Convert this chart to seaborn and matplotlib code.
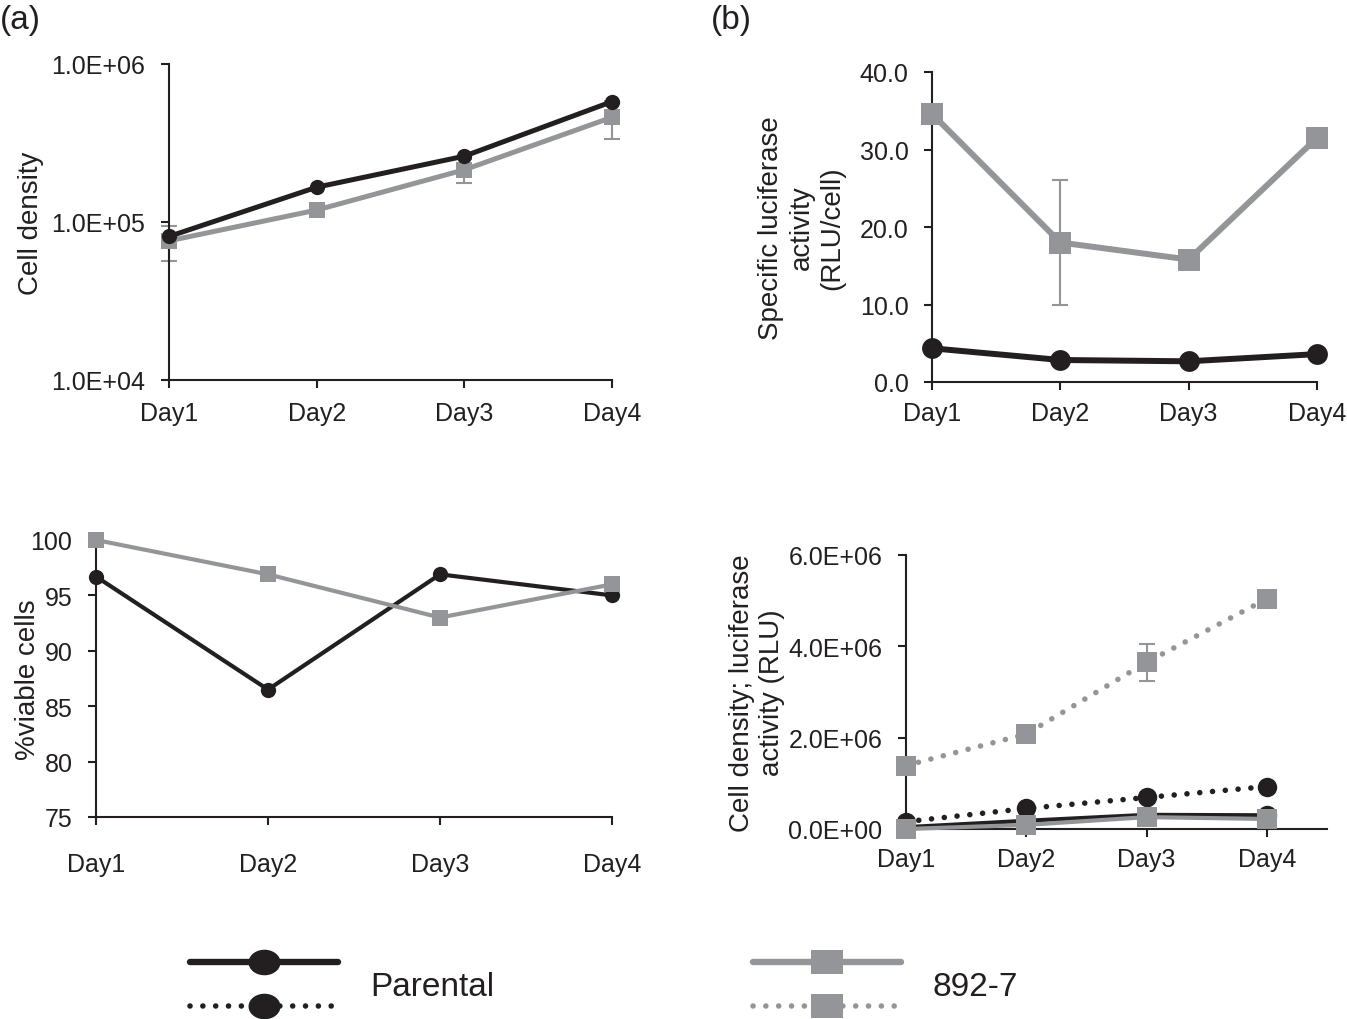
import numpy as np
import pandas as pd
import matplotlib
matplotlib.use('Agg')
import matplotlib.pyplot as plt
import seaborn as sns
from matplotlib.lines import Line2D
from matplotlib.legend_handler import HandlerBase
from matplotlib.ticker import FuncFormatter, FixedLocator, NullLocator
from matplotlib.transforms import blended_transform_factory

# ---------------------------------------------------------------------------
# data
# ---------------------------------------------------------------------------
days = ['Day1', 'Day2', 'Day3', 'Day4']

# (a) cell density
dens_parental = [8.1e4, 1.66e5, 2.61e5, 5.78e5]
dens_892 = [7.6e4, 1.19e5, 2.14e5, 4.6e5]
dens_892_err = [1.9e4, 0.0, 3.7e4, 1.26e5]

# (a) viability
viab_parental = [96.7, 86.5, 96.9, 95.0]
viab_892 = [100.0, 96.9, 93.0, 96.0]

# (b) specific luciferase activity
spec_parental = [4.35, 2.84, 2.67, 3.6]
spec_892 = [34.6, 18.0, 15.8, 31.5]
spec_892_err = [0.0, 8.1, 0.0, 0.0]

# (b) cell density (solid) and luciferase activity (dotted)
cd_parental = [0.04e6, 0.18e6, 0.31e6, 0.30e6]
cd_892 = [0.0, 0.09e6, 0.26e6, 0.22e6]
luc_parental = [0.16e6, 0.45e6, 0.69e6, 0.93e6]
luc_892 = [1.39e6, 2.08e6, 3.65e6, 5.04e6]
luc_892_err = [0.0, 0.0, 0.40e6, 0.0]

BLACK = '#231F20'
GRAY = '#939598'
DOTS = (0, (0.01, 2.3))

sns.set_style('ticks')
plt.rcParams['font.family'] = ['Liberation Sans', 'DejaVu Sans']
plt.rcParams['axes.linewidth'] = 1.5
plt.rcParams['xtick.major.width'] = 1.5
plt.rcParams['ytick.major.width'] = 1.5
plt.rcParams['xtick.major.size'] = 6
plt.rcParams['ytick.major.size'] = 6
plt.rcParams['axes.edgecolor'] = BLACK

W, H = 1347, 1020
fig = plt.figure(figsize=(W / 100, H / 100), dpi=100)


def add_ax(l, r, t, b):
    return fig.add_axes([l / W, 1 - b / H, (r - l) / W, (b - t) / H])


xpos = np.arange(len(days))


def draw(ax, y, color, marker, ms, lw, ls='-', err=None):
    df = pd.DataFrame({'x': xpos, 'y': y})
    sns.lineplot(data=df, x='x', y='y', ax=ax, color=color, marker=marker,
                 markersize=ms, markeredgewidth=0, linewidth=lw, linestyle=ls,
                 dash_capstyle='round', errorbar=None, clip_on=False, zorder=3)
    if err is not None:
        ax.errorbar(xpos, y, yerr=err, fmt='none', ecolor=color, elinewidth=1.5,
                    capsize=6, capthick=1.5, zorder=2, clip_on=False)


def style(ax, xmax, ylabel, label_x, xpad):
    ax.set_xlim(0, xmax)
    ax.xaxis.set_major_locator(FixedLocator(xpos))
    ax.set_xticklabels(days)
    ax.set_xlabel('')
    ax.set_ylabel(ylabel, fontsize=20, color=BLACK, linespacing=1.22)
    ax.yaxis.set_label_coords(label_x / W, 0.5,
                              transform=blended_transform_factory(fig.transFigure, ax.transAxes))
    sns.despine(ax=ax)
    ax.tick_params(axis='both', labelsize=18, colors=BLACK, direction='out')
    ax.tick_params(axis='x', pad=xpad)
    ax.tick_params(axis='y', pad=11)


# --- (a) top: cell density, log scale
ax1 = add_ax(169, 612, 65, 381)
ax1.set_yscale('log')
draw(ax1, dens_892, GRAY, 's', 11, 3.6, err=dens_892_err)
draw(ax1, dens_parental, BLACK, 'o', 11, 3.6)
ax1.set_ylim(1e4, 1e6)
ax1.yaxis.set_major_locator(FixedLocator([1e4, 1e5, 1e6]))
ax1.yaxis.set_minor_locator(NullLocator())
ax1.yaxis.set_major_formatter(FuncFormatter(lambda v, p: f'{v:.1E}'))
style(ax1, 3, 'Cell density', 44, 9)

# --- (a) bottom: viability
ax2 = add_ax(96, 612, 541, 818)
draw(ax2, viab_parental, BLACK, 'o', 11, 3.0)
draw(ax2, viab_892, GRAY, 's', 11, 3.0)
ax2.set_ylim(75, 100)
ax2.set_yticks([75, 80, 85, 90, 95, 100])
style(ax2, 3, '%viable cells', 41, 19)

# --- (b) top: specific luciferase activity
ax3 = add_ax(932, 1317, 73, 383)
draw(ax3, spec_892, GRAY, 's', 16, 4.3, err=spec_892_err)
draw(ax3, spec_parental, BLACK, 'o', 15, 4.3)
ax3.set_ylim(0, 40)
ax3.set_yticks([0, 10, 20, 30, 40])
ax3.yaxis.set_major_formatter(FuncFormatter(lambda v, p: f'{v:.1f}'))
style(ax3, 3, 'Specific luciferase\nactivity\n(RLU/cell)', 845, 8)

# --- (b) bottom: cell density (solid) and luciferase activity (dotted)
ax4 = add_ax(906, 1327, 556, 830)
draw(ax4, luc_892, GRAY, 's', 14, 4.0, ls=DOTS, err=luc_892_err)
draw(ax4, luc_parental, BLACK, 'o', 14, 4.0, ls=DOTS)
draw(ax4, cd_parental, BLACK, 'o', 14, 3.0)
draw(ax4, cd_892, GRAY, 's', 14, 3.0)
ax4.set_ylim(0, 6e6)
ax4.set_yticks([0, 2e6, 4e6, 6e6])
ax4.yaxis.set_major_formatter(FuncFormatter(lambda v, p: f'{v:.1E}'))
style(ax4, 3.5, 'Cell density; luciferase\nactivity (RLU)', 785, 7)

# panel letters
fig.text(0.0, 1 - 20 / H, '(a)', fontsize=24, color=BLACK, va='center', ha='left')
fig.text(711 / W, 1 - 20 / H, '(b)', fontsize=24, color=BLACK, va='center', ha='left')

# legend marker shapes (slightly flattened, as in the original key)
t = np.linspace(0, 2 * np.pi, 60)
ELLIPSE = np.column_stack([np.cos(t), 0.8 * np.sin(t)])
RECT = [(-1, -0.78), (1, -0.78), (1, 0.78), (-1, 0.78), (-1, -0.78)]


class HandlerStack(HandlerBase):
    """solid sample on top, dotted sample below, one label"""

    def create_artists(self, legend, orig_handle, xdescent, ydescent,
                       width, height, fontsize, trans):
        arts = []
        x0, x1 = -xdescent, -xdescent + width
        xm = (x0 + x1) / 2
        for h, yy in zip(orig_handle, (-ydescent + height, -ydescent)):
            ln = Line2D([x0, x1], [yy, yy], color=h.get_color(),
                        linewidth=h.get_linewidth(), linestyle=h.ls_spec,
                        dash_capstyle='round', transform=trans)
            mk = Line2D([xm], [yy], color=h.get_color(), marker=h.get_marker(),
                        markersize=h.get_markersize(), markeredgewidth=0,
                        linestyle='none', transform=trans)
            arts += [ln, mk]
        return arts


def key(color, ls, lw, marker):
    h = Line2D([], [], color=color, lw=lw, marker=marker, ms=23)
    h.ls_spec = ls
    return h


par_handles = (key(BLACK, '-', 4.6, ELLIPSE), key(BLACK, DOTS, 4.0, ELLIPSE))
gry_handles = (key(GRAY, '-', 4.6, RECT), key(GRAY, DOTS, 4.0, RECT))

for handles, label, x in [(par_handles, 'Parental', 190), (gry_handles, '892-7', 753)]:
    fig.legend([handles], [label], handler_map={tuple: HandlerStack()},
               loc='center left', bbox_to_anchor=(x / W, 1 - 985 / H),
               frameon=False, fontsize=24, handlelength=4.45, handleheight=1.65,
               handletextpad=0.95, borderpad=0, borderaxespad=0,
               labelcolor=BLACK)

fig.savefig('out.png', dpi=100)
